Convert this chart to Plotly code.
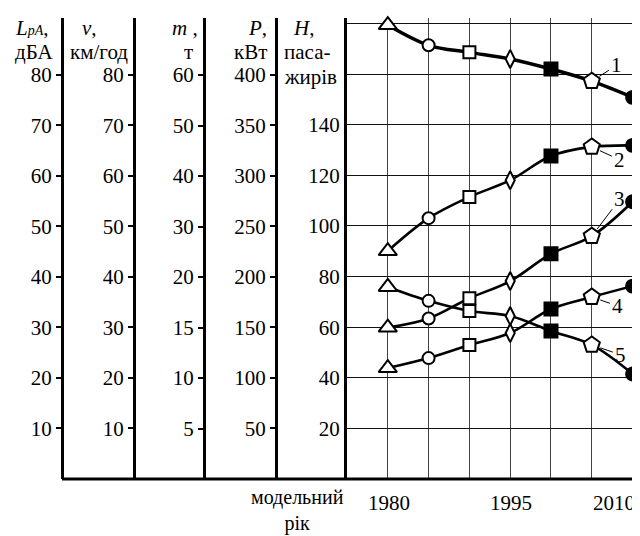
import plotly.graph_objects as go

# page has an 8px body margin; the figure fills the rest of the 640x536 window
OX, OY = 8, 8
W, H = 640 - OX, 536 - OY

# ---------------- data ----------------
years = [1980, 1985, 1990, 1995, 2000, 2005, 2010]
year_symbols = ['triangle-up', 'circle', 'square', 'diamond-tall', 'square', 'pentagon', 'circle']
year_fill = ['white', 'white', 'white', 'white', 'black', 'white', 'black']

noise_dba = [89.8, 85.8, 84.4, 83.1, 81.1, 78.7, 75.5]        # curve 1 -> L_pA, dBA
speed_kmh = [45.1, 51.6, 55.8, 59.1, 63.9, 65.7, 66.0]        # curve 2 -> v, km/h
mass_t = [15.0, 15.9, 17.9, 19.6, 24.6, 28.1, 34.9]           # curve 3 -> m, t
power_kw = [109.7, 119.6, 132.5, 144.4, 168.1, 180.0, 190.8]  # curve 4 -> P, kW
passengers = [75.9, 70.4, 66.4, 64.4, 58.5, 53.0, 41.5]       # curve 5 -> H, passengers

L_ticks = [10, 20, 30, 40, 50, 60, 70, 80]
v_ticks = [10, 20, 30, 40, 50, 60, 70, 80]
m_ticks = [5, 10, 15, 20, 30, 40, 50, 60]
P_ticks = [50, 100, 150, 200, 250, 300, 350, 400]
H_ticks = [20, 40, 60, 80, 100, 120, 140]
H_grid_extra = [160, 180]
year_ticks = [1980, 1985, 1990, 1995, 2000, 2005, 2010]
year_labels = [1980, 1995, 2010]
curve_labels = ['1', '2', '3', '4', '5']


# m axis is piecewise: 5 t per division below 20 t, 10 t per division above
def m_scale(v):
    return v if v >= 20 else 20 - (20 - v) * 2


# ---------------- layout helpers (window pixels -> paper fractions) ----------------
def px_x(p):
    return (p - OX) / W


def px_y(p):
    return 1 - (p - OY) / H


FONT = dict(family='Liberation Serif, Times New Roman, serif', size=21, color='black')
XFONT = dict(family='Liberation Serif, Times New Roman, serif', size=20, color='black')
dom_y = [px_y(479), px_y(18)]

fig = go.Figure()

series = [
    (noise_dba, 'y2', 3.5),
    (speed_kmh, 'y3', 2.6),
    ([m_scale(v) for v in mass_t], 'y4', 2.6),
    (power_kw, 'y5', 2.6),
    (passengers, 'y', 2.6),
]
sizes = [16, 12, 12, 13, 13, 17, 13]
for vals, ax, lw in series:
    fig.add_trace(go.Scatter(
        x=years, y=vals, yaxis=ax, mode='lines+markers',
        line=dict(shape='spline', smoothing=1.0, color='black', width=lw),
        marker=dict(symbol=year_symbols, size=sizes, color=year_fill, opacity=1,
                    line=dict(color='black', width=2)),
        cliponaxis=False, hoverinfo='skip', showlegend=False))

left_axis_common = dict(
    overlaying='y', anchor='free', side='left', showline=True, linewidth=3,
    linecolor='black', ticks='outside', ticklen=5, tickwidth=1.5, tickcolor='black',
    showgrid=False, zeroline=False, tickfont=FONT)

fig.update_layout(
    width=W, height=H, margin=dict(l=0, r=0, t=0, b=0),
    paper_bgcolor='white', plot_bgcolor='white', showlegend=False,
    xaxis=dict(domain=[px_x(347), px_x(633)], range=[1975, 2010.05],
               tickvals=year_ticks, showticklabels=False, ticks='',
               showgrid=True, gridcolor='#444', gridwidth=1.2, zeroline=False,
               showline=False),
    yaxis=dict(domain=dom_y, range=[0, 182.2], anchor='x', side='left',
               tickvals=H_ticks + H_grid_extra,
               ticktext=[str(t) for t in H_ticks] + ['' for _ in H_grid_extra],
               showgrid=True, gridcolor='#111', gridwidth=1, ticks='',
               showline=True, linewidth=3, linecolor='black', zeroline=False,
               tickfont=FONT),
    yaxis2=dict(range=[0, 91.2], position=px_x(62), tickvals=L_ticks,
                ticktext=[str(t) for t in L_ticks], **left_axis_common),
    yaxis3=dict(range=[0, 91.2], position=px_x(134), tickvals=v_ticks,
                ticktext=[str(t) for t in v_ticks], **left_axis_common),
    yaxis4=dict(range=[-20, 71.3], position=px_x(204),
                tickvals=[m_scale(t) for t in m_ticks],
                ticktext=[str(t) for t in m_ticks], **left_axis_common),
    yaxis5=dict(range=[0, 456], position=px_x(276), tickvals=P_ticks,
                ticktext=[str(t) for t in P_ticks], **left_axis_common),
)

# bottom base line
fig.add_shape(type='line', xref='paper', yref='paper',
              x0=px_x(62), x1=px_x(634), y0=px_y(479), y1=px_y(479),
              line=dict(color='black', width=3))

ann = []
# axis titles
titles = [
    ("<i>L</i><i><span style='font-size:14px'>pA</span></i>,", 14, 'left', 28),
    ("дБА", 14, 'left', 52),
    ("<i>v</i>,", 89, 'center', 28),
    ("км/год", 99, 'center', 52),
    ("<i>m</i> ,", 185, 'center', 28),
    ("т", 188, 'center', 52),
    ("<i>P</i>,", 268, 'right', 28),
    ("кВт", 268, 'right', 52),
    ("<i>H</i>,", 303, 'center', 28),
    ("паса-", 307, 'center', 52),
    ("жирів", 310, 'center', 77),
]
for text, x, xa, y in titles:
    ann.append(dict(text=text, x=px_x(x), y=px_y(y), xref='paper', yref='paper',
                    xanchor=xa, yanchor='middle', showarrow=False, font=FONT,
                    borderpad=0))

# x-axis title (two lines)
ann.append(dict(text="модельний<br>рік", x=px_x(297), y=px_y(536), xref='paper',
                yref='paper', xanchor='center', yanchor='bottom', align='center',
                showarrow=False, font=XFONT, borderpad=0))

# year labels
for yr in year_labels:
    last = yr == year_labels[-1]
    ann.append(dict(text=str(yr), x=yr, xref='x', y=px_y(503), yref='paper',
                    xanchor='right' if last else 'center', xshift=3 if last else 1,
                    yanchor='middle', showarrow=False, font=FONT, borderpad=0))

# curve number labels with leader lines
offsets = [(25, -16), (28, 13), (28, -37), (26, 9), (29, 10)]
for (vals, ax, _), lab, (dx, dy) in zip(series, curve_labels, offsets):
    ann.append(dict(text=lab, x=years[5], y=vals[5], xref='x', yref=ax,
                    ax=dx, ay=dy, showarrow=True, arrowhead=0, arrowwidth=1,
                    arrowcolor='black', standoff=9, startstandoff=1, font=FONT))

fig.update_layout(annotations=ann)
fig.write_html("out.html")
